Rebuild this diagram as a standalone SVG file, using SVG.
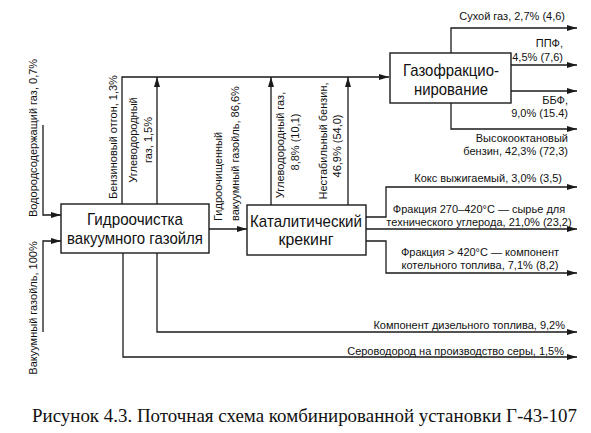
<svg xmlns="http://www.w3.org/2000/svg" width="591" height="433" viewBox="0 0 591 433">
<style>
.ln{fill:none;stroke:#1a1a1a;stroke-width:1.3}
.bx{fill:#fff;stroke:#1a1a1a;stroke-width:1.4}
.bt{font-family:"Liberation Sans",Arial,sans-serif;font-size:17px;fill:#111;text-anchor:middle}
.lb{font-family:"Liberation Sans",Arial,sans-serif;font-size:11px;fill:#111}
.m{text-anchor:middle}
.e{text-anchor:end}
.cap{font-family:"Liberation Serif","Times New Roman",serif;font-size:19px;fill:#111}
</style>
<defs>
<marker id="ah" viewBox="0 0 10 6" refX="10" refY="3" markerWidth="10" markerHeight="6" markerUnits="userSpaceOnUse" orient="auto">
<path d="M0,0 L10,3 L0,6 Z" fill="#1a1a1a"/>
</marker>
</defs>
<rect width="591" height="433" fill="#fff"/>
<g id="connectors">
<path class="ln" d="M43,125 V215 H61" marker-end="url(#ah)"/>
<path class="ln" d="M43,332 V241 H61" marker-end="url(#ah)"/>
<path class="ln" d="M122,204 V77 H389" marker-end="url(#ah)"/>
<path class="ln" d="M157,204 V77" marker-end="url(#ah)"/>
<path class="ln" d="M209,229 H247" marker-end="url(#ah)"/>
<path class="ln" d="M271,205 V77" marker-end="url(#ah)"/>
<path class="ln" d="M348,205 V77" marker-end="url(#ah)"/>
<path class="ln" d="M451,53 V28 H577" marker-end="url(#ah)"/>
<path class="ln" d="M511,65 H577" marker-end="url(#ah)"/>
<path class="ln" d="M511,91 H577" marker-end="url(#ah)"/>
<path class="ln" d="M451,103 V129 H577" marker-end="url(#ah)"/>
<path class="ln" d="M366,217 H386 V187 H577" marker-end="url(#ah)"/>
<path class="ln" d="M366,229 H577" marker-end="url(#ah)"/>
<path class="ln" d="M366,241 H386 V273 H577" marker-end="url(#ah)"/>
<path class="ln" d="M157,253 V332 H577" marker-end="url(#ah)"/>
<path class="ln" d="M123,253 V357 H577" marker-end="url(#ah)"/>
</g>
<g id="node-hydro">
<rect class="bx" x="61" y="204" width="148" height="49"/>
<text class="bt" x="135" y="225" textLength="96" lengthAdjust="spacingAndGlyphs">Гидроочистка</text>
<text class="bt" x="135" y="244" textLength="136" lengthAdjust="spacingAndGlyphs">вакуумного газойля</text>
</g>
<g id="node-cracking">
<rect class="bx" x="247" y="205" width="119" height="50"/>
<text class="bt" x="306" y="227" textLength="112" lengthAdjust="spacingAndGlyphs">Каталитический</text>
<text class="bt" x="306" y="245" textLength="55" lengthAdjust="spacingAndGlyphs">крекинг</text>
</g>
<g id="node-gasfrac">
<rect class="bx" x="390" y="53" width="121" height="50"/>
<text class="bt" x="451" y="76" textLength="96" lengthAdjust="spacingAndGlyphs">Газофракцио-</text>
<text class="bt" x="451" y="95" textLength="74" lengthAdjust="spacingAndGlyphs">нирование</text>
</g>
<g id="labels">
<text class="lb m" transform="translate(37,138) rotate(-90)">Водородсодержащий газ, 0,7%</text>
<text class="lb m" transform="translate(37,308) rotate(-90)">Вакуумный газойль, 100%</text>
<text class="lb m" transform="translate(117,137) rotate(-90)">Бензиновый отгон, 1,3%</text>
<text class="lb m" transform="translate(137,140) rotate(-90)">Углеводородный</text>
<text class="lb m" transform="translate(152,140) rotate(-90)">газ, 1,5%</text>
<text class="lb" transform="translate(222,221) rotate(-90)">Гидроочищенный</text>
<text class="lb" transform="translate(239,221) rotate(-90)">вакуумный газойль, 86,6%</text>
<text class="lb m" transform="translate(284,145) rotate(-90)">Углеводородный газ,</text>
<text class="lb m" transform="translate(299,142) rotate(-90)">8,8% (10,1)</text>
<text class="lb m" transform="translate(327,141) rotate(-90)">Нестабильный бензин,</text>
<text class="lb m" transform="translate(341,146) rotate(-90)">46,9% (54,0)</text>
<text class="lb e" x="565" y="20">Сухой газ, 2,7% (4,6)</text>
<text class="lb e" x="563" y="47">ППФ,</text>
<text class="lb e" x="563" y="61">4,5% (7,6)</text>
<text class="lb e" x="568" y="104">ББФ,</text>
<text class="lb e" x="568" y="117">9,0% (15.4)</text>
<text class="lb e" x="568" y="142">Высокооктановый</text>
<text class="lb e" x="568" y="155">бензин, 42,3% (72,3)</text>
<text class="lb e" x="562" y="182">Кокс выжигаемый, 3,0% (3,5)</text>
<text class="lb m" x="479" y="213">Фракция 270–420°С — сырье для</text>
<text class="lb m" x="479" y="226">технического углерода, 21,0% (23,2)</text>
<text class="lb m" x="480" y="256">Фракция &gt; 420°С — компонент</text>
<text class="lb m" x="480" y="269">котельного топлива, 7,1% (8,2)</text>
<text class="lb e" x="565" y="329">Компонент дизельного топлива, 9,2%</text>
<text class="lb e" x="564" y="355">Сероводород на производство серы, 1,5%</text>
</g>
<text class="cap" x="32" y="422" textLength="545" lengthAdjust="spacingAndGlyphs">Рисунок 4.3. Поточная схема комбинированной установки Г-43-107</text>
</svg>
